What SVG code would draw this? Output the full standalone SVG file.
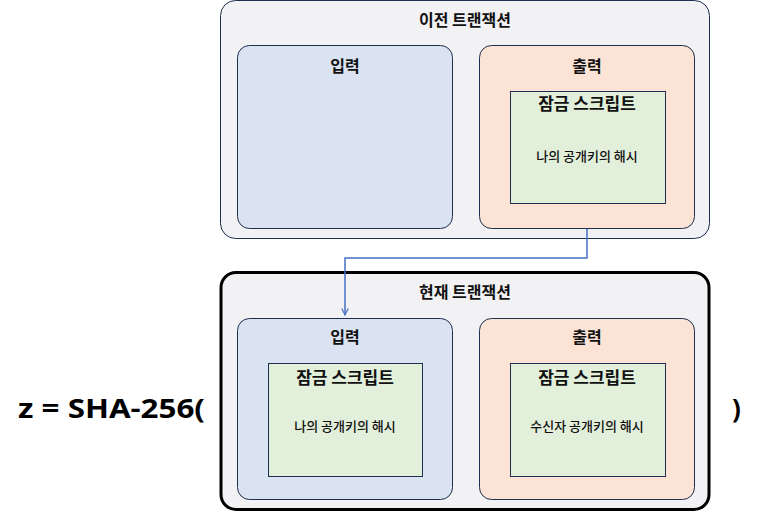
<svg xmlns="http://www.w3.org/2000/svg" width="762" height="512" viewBox="0 0 762 512">
<defs>
<style>
.tx{font-family:"Noto Sans CJK KR","Noto Sans",sans-serif;fill:#111;text-anchor:middle}
.t1{font-size:16px;font-weight:700}
.t2{font-size:16px;font-weight:700}
.t3{font-size:17px;font-weight:700}
.t4{font-size:13px;font-weight:500}
.outer{fill:#f2f2f4;stroke:#1f2d4e;stroke-width:1}
.inp{fill:#dae3f1;stroke:#1f2d4e;stroke-width:1}
.out{fill:#fbe4d6;stroke:#1f2d4e;stroke-width:1}
.grn{fill:#e2efda;stroke:#1f2d4e;stroke-width:1}
.fx{font-family:"Noto Sans","Liberation Sans",sans-serif;font-size:26px;font-weight:700;fill:#000}
</style>
<marker id="arr" viewBox="0 0 10 10" refX="9" refY="5" markerWidth="8" markerHeight="8" orient="auto" markerUnits="userSpaceOnUse">
<path d="M1,1 L9,5 L1,9" fill="none" stroke="#4472c4" stroke-width="1.5"/>
</marker>
</defs>
<g id="prev-tx">
<rect class="outer" x="220.5" y="0.5" width="489" height="238" rx="15"/>
<text class="tx t1" x="465" y="26">이전 트랜잭션</text>
</g>
<g id="prev-input">
<rect class="inp" x="237.5" y="45.5" width="215" height="183" rx="12"/>
<text class="tx t2" x="345" y="72">입력</text>
</g>
<g id="prev-output">
<rect class="out" x="479.5" y="45.5" width="215" height="183" rx="12"/>
<text class="tx t2" x="587" y="72">출력</text>
</g>
<g id="prev-lock">
<rect class="grn" x="510.5" y="91.5" width="155" height="112"/>
<text class="tx t3" x="587" y="110">잠금 스크립트</text>
<text class="tx t4" x="587" y="161">나의 공개키의 해시</text>
</g>
<g id="cur-tx">
<rect class="outer" x="221" y="272.5" width="488" height="237" rx="15" style="stroke:#000;stroke-width:3"/>
<text class="tx t1" x="465" y="298">현재 트랜잭션</text>
</g>
<g id="cur-input">
<rect class="inp" x="237.5" y="318.5" width="215" height="181" rx="12"/>
<text class="tx t2" x="345" y="343">입력</text>
</g>
<g id="cur-input-lock">
<rect class="grn" x="268.5" y="363.5" width="154" height="113"/>
<text class="tx t3" x="345" y="384">잠금 스크립트</text>
<text class="tx t4" x="345" y="431">나의 공개키의 해시</text>
</g>
<g id="cur-output">
<rect class="out" x="479.5" y="318.5" width="215" height="181" rx="12"/>
<text class="tx t2" x="587" y="343">출력</text>
</g>
<g id="cur-output-lock">
<rect class="grn" x="510.5" y="363.5" width="155" height="113"/>
<text class="tx t3" x="587" y="384">잠금 스크립트</text>
<text class="tx t4" x="587" y="431">수신자 공개키의 해시</text>
</g>
<g id="connectors">
<path d="M587,229 V258 H345 V315" fill="none" stroke="#4472c4" stroke-width="1.5" marker-end="url(#arr)"/>
</g>
<g id="formula">
<text class="fx" x="18" y="418" textLength="187" lengthAdjust="spacingAndGlyphs">z = SHA-256(</text>
<text class="fx" x="732" y="418">)</text>
</g>
</svg>
